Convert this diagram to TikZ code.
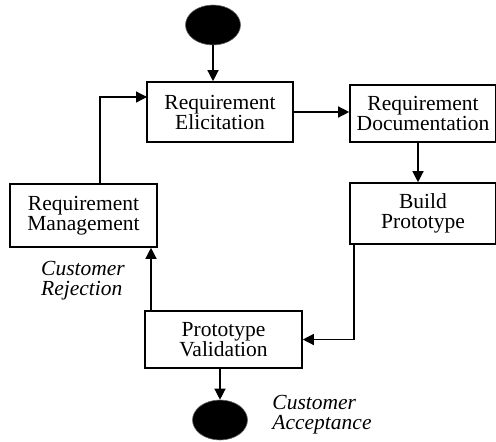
\documentclass[tikz,border=0pt]{standalone}
\usepackage{fontspec}
\setmainfont{Liberation Serif}
\usetikzlibrary{arrows.meta, shapes.geometric}

\tikzset{
    stagebox/.style={rectangle, draw, line width=1.6pt, align=center, inner sep=1pt,
        font=\fontsize{21.5}{20}\selectfont},
    terminal/.style={ellipse, fill=black, draw=black!60, line width=0.6pt,
        minimum width=55pt, minimum height=40pt},
    flow/.style={-{Triangle[length=11pt,width=11pt]}, line width=1.3pt},
    remark/.style={align=left, font=\fontsize{21.5}{20}\selectfont\itshape}
}

\begin{document}
\begin{tikzpicture}[x=1pt, y=-1pt]
            \useasboundingbox (0,0) rectangle (496,442);

            \node[terminal] at (213, 25)   (start) {};
            \node[stagebox, minimum width=146pt, minimum height=60pt] at (220, 112)   (elic) {Requirement\\Elicitation};
            \node[stagebox, minimum width=146pt, minimum height=57pt] at (423, 113.5)   (docu) {Requirement\\Documentation};
            \node[stagebox, minimum width=146pt, minimum height=61pt] at (423, 213.5)   (build) {Build\\Prototype};
            \node[stagebox, minimum width=157pt, minimum height=57pt] at (223.5, 339.5)   (valid) {Prototype\\Validation};
            \node[stagebox, minimum width=147pt, minimum height=63pt] at (83.5, 215.5)   (mgmt) {Requirement\\Management};
            \node[terminal] at (220, 420)   (finish) {};

            \node[remark] at (83, 281)   (reject) {Customer\\Rejection};
            \node[remark] at (322, 415)   (accept) {Customer\\Acceptance};

            \coordinate (buildout) at (354, 244);
            \coordinate (validout) at (151, 311);
            \coordinate (mgmtout) at (100, 184);
            \coordinate (elicin) at (147, 97);

            \draw [flow] (start.south) -- (start.south |- elic.north);
            \draw [flow] (elic.east) -- (elic.east -| docu.west);
            \draw [flow] ([xshift=-5pt]docu.south) -- ([xshift=-5pt]build.north);
            \draw [flow] (buildout) |- (valid.east);
            \draw [flow] (validout) -- (validout |- mgmt.south);
            \draw [flow] (mgmtout) |- (elicin);
            \draw [flow] (valid.south -| finish.north) -- (finish.north);
        \end{tikzpicture}
\end{document}
